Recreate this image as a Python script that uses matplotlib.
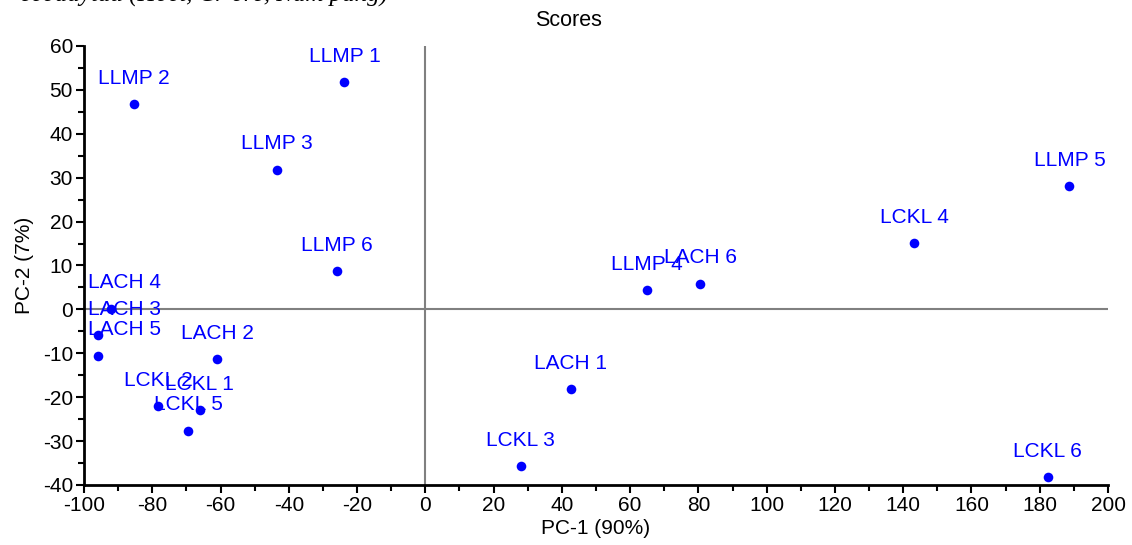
import matplotlib
matplotlib.use("Agg")
import matplotlib.pyplot as plt
from matplotlib.ticker import MultipleLocator

plt.rcParams['font.family'] = ['Liberation Sans', 'DejaVu Sans']
plt.rcParams['axes.unicode_minus'] = False

labels = ["LLMP 1", "LLMP 2", "LLMP 3", "LLMP 4", "LLMP 5", "LLMP 6",
          "LACH 1", "LACH 2", "LACH 3", "LACH 4", "LACH 5", "LACH 6",
          "LCKL 1", "LCKL 2", "LCKL 3", "LCKL 4", "LCKL 5", "LCKL 6"]
pc1 = [-23.7, -85.4, -43.5, 64.8, 188.7, -26.0,
       42.6, -60.9, -95.8, -92.2, -95.8, 80.5,
       -66.1, -78.3, 28.0, 143.3, -69.5, 182.4]
pc2 = [51.8, 46.7, 31.8, 4.4, 28.0, 8.7,
       -18.2, -11.4, -5.9, 0.2, -10.6, 5.8,
       -23.0, -22.0, -35.7, 15.1, -27.6, -38.2]

fig = plt.figure(figsize=(11.32, 5.45), dpi=100)
ax = fig.add_axes([0.0742, 0.1101, 0.9046, 0.8055])

ax.axhline(0, color="#808080", lw=1.5, zorder=1)
ax.axvline(0, color="#808080", lw=1.5, zorder=1)
ax.scatter(pc1, pc2, s=48, color="#0000ff", zorder=3, linewidths=0)

texts = []
for lab, x, y in zip(labels, pc1, pc2):
    t = ax.annotate(lab, (x, y), xytext=(0, 18.7), textcoords="offset points",
                    ha="center", va="center", color="#0000ff", fontsize=15, zorder=4)
    texts.append(t)

ax.set_xlim(-100, 200)
ax.set_ylim(-40, 60)
ax.xaxis.set_major_locator(MultipleLocator(20))
ax.xaxis.set_minor_locator(MultipleLocator(10))
ax.yaxis.set_major_locator(MultipleLocator(10))
ax.yaxis.set_minor_locator(MultipleLocator(5))
for s in ["top", "right"]:
    ax.spines[s].set_visible(False)
for s in ["left", "bottom"]:
    ax.spines[s].set_linewidth(2)
ax.tick_params(which="major", direction="out", length=6, width=1.5, labelsize=15, pad=2)
ax.tick_params(which="minor", direction="out", length=4, width=1.5)
ax.set_xlabel("PC-1 (90%)", fontsize=15, labelpad=3)
ax.set_ylabel("PC-2 (7%)", fontsize=15, labelpad=6)

fig.text(569 / 1132, 1 - 20 / 545, "Scores", ha="center", va="center", fontsize=15.5)
# cut-off line of the surrounding document, only its lower edge shows
fig.text(0.018, 1 - 1.5 / 545, "ecodaytau (Hoct, Cr ore, Nam pang)", ha="left", va="baseline",
         fontsize=18, family="Liberation Serif", style="italic")

# keep labels inside the plot area (like the original software does)
fig.canvas.draw()
renderer = fig.canvas.get_renderer()
ax_bb = ax.get_window_extent(renderer)
for t in texts:
    bb = t.get_window_extent(renderer)
    if bb.x0 < ax_bb.x0 + 4:
        dx = (ax_bb.x0 + 4 - bb.x0) * 72 / fig.dpi
        ox, oy = t.get_position()
        t.set_position((ox + dx, oy))

fig.savefig("out.png", dpi=100)
